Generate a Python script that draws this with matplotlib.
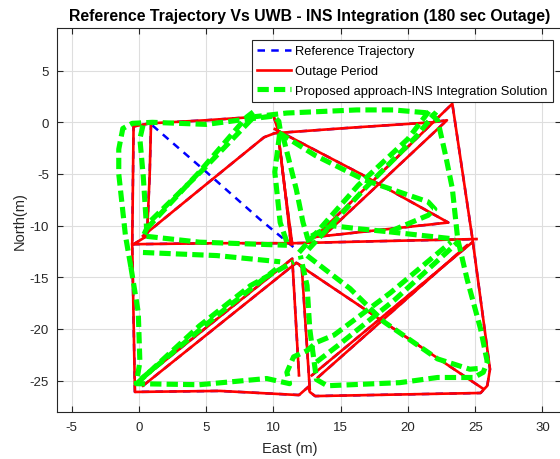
import matplotlib
matplotlib.use("Agg")
import matplotlib.pyplot as plt
import numpy as np

plt.rcParams['font.family'] = ['Liberation Sans', 'DejaVu Sans']
plt.rcParams['axes.unicode_minus'] = False

# reference leg only visible where no outage segment covers it
ref_diag = [(1.0, -0.3), (5.0, -4.8), (9.0, -9.4), (11.6, -12.2)]

# outage period segments (East, North)
red_border = [(0.8, -0.1), (-0.4, -0.4), (-0.5, -11.8), (-0.3, -26.1), (6.0, -26.0),
              (11.9, -26.4), (12.6, -25.6), (12.7, -26.1), (13.1, -26.5),
              (25.4, -26.2), (25.9, -25.5), (26.1, -23.9), (24.8, -11.3),
              (23.3, 1.8), (13.1, -11.1)]
red_top = [(0.8, -0.1), (5.0, 0.2), (10.0, 0.65), (10.3, -0.6), (10.8, -6.0), (11.4, -11.8)]
red_top_mid = [(10.4, -1.6), (10.9, -7.0), (11.3, -11.8)]
red_left_inner = [(0.9, 0.0), (0.8, -5.0), (0.6, -11.0), (-0.4, -11.8)]
red_tl_diag = [(0.3, -11.0), (5.0, -6.0), (9.3, -1.45), (10.1, -1.05), (16.0, -0.5),
               (21.8, 0.0), (22.9, 0.2), (13.8, -10.9)]
red_mid = [(-0.5, -11.8), (6.0, -11.7), (11.5, -11.7), (18.0, -11.5), (25.1, -11.3)]
red_tr_x = [(10.1, -0.65), (16.5, -5.0), (23.0, -9.7), (13.1, -11.1)]
red_bl_diag1 = [(-0.2, -25.3), (11.2, -13.4), (11.4, -13.2), (11.9, -24.5)]
red_bl_diag2 = [(0.3, -25.5), (11.7, -13.6), (12.1, -13.9), (12.7, -25.8)]
red_br_x = [(12.0, -13.9), (25.6, -25.8)]
red_br_diag1 = [(12.85, -24.5), (24.8, -11.6)]
red_br_diag2 = [(13.3, -24.7), (24.4, -11.9)]

# integrated solution segments (East, North)
grn_outer = [(-0.6, -14.0), (-1.0, -11.0), (-1.5, -5.0), (-1.5, -2.6), (-1.2, -0.6),
             (-0.5, -0.1), (1.0, 0.0), (5.0, -0.2), (8.0, 0.3), (10.0, 0.6),
             (10.4, 0.1), (10.5, -0.7), (10.1, -4.8), (10.5, -9.7), (11.0, -11.6)]
grn_left_low = [(-0.6, -14.0), (-0.05, -18.4), (0.07, -23.2), (-0.2, -25.3),
                (4.5, -25.4), (9.5, -24.8), (11.2, -25.3), (11.0, -24.2),
                (11.5, -22.7), (12.5, -22.1), (13.2, -21.3), (14.5, -20.6),
                (18.7, -16.5), (23.2, -11.6)]
grn_left_inner = [(0.3, -0.3), (0.07, -1.6), (0.32, -5.2), (0.57, -10.3), (0.32, -11.0),
                  (4.5, -11.6), (11.0, -11.9)]
grn_tl_diag1 = [(0.57, -10.3), (4.5, -4.8), (8.0, 0.5), (8.5, 1.0)]
grn_tl_diag2 = [(0.9, -9.5), (4.9, -4.4), (8.6, 0.6)]
grn_mid_low = [(0.3, -12.6), (5.8, -12.9), (10.5, -13.5)]
grn_top_mid = [(10.7, -1.3), (11.7, -6.5), (12.2, -9.7), (12.7, -11.9)]
grn_top_arc = [(8.3, 0.5), (11.0, 0.9), (16.2, 1.2), (18.9, 1.2), (21.6, 0.9),
               (22.2, 0.2), (22.3, -0.3), (22.8, -3.2), (23.3, -6.4), (23.7, -11.3),
               (24.4, -15.2), (25.4, -20.0), (25.9, -23.2), (25.6, -24.2),
               (24.9, -24.7), (22.2, -24.7), (19.4, -25.2), (14.0, -25.5),
               (13.2, -24.9), (13.1, -23.9), (12.7, -20.0), (12.5, -15.8), (12.0, -12.9)]
grn_tr_diag1 = [(11.9, -12.6), (16.3, -6.1), (20.0, -1.6), (21.7, 1.3)]
grn_tr_diag2 = [(12.6, -12.3), (16.8, -6.4), (20.6, -1.4), (22.1, 1.0)]
grn_tr_loop = [(10.4, -1.0), (13.1, -3.2), (16.8, -5.6), (21.5, -7.7), (22.0, -8.4),
               (21.5, -9.0), (18.6, -10.6), (16.3, -10.3), (14.3, -10.0), (12.4, -11.3)]
grn_tr_tail = [(18.6, -10.6), (23.5, -11.3)]
grn_bl_diag1 = [(-0.17, -25.3), (4.5, -19.7), (8.3, -15.8), (11.5, -13.5)]
grn_bl_diag2 = [(0.2, -24.8), (5.8, -18.7), (10.2, -14.2)]
grn_br_x = [(12.5, -12.9), (15.7, -16.1), (18.2, -19.3), (22.2, -22.9), (24.6, -23.9),
            (25.5, -23.8)]
grn_br_diag = [(13.2, -23.2), (14.8, -21.6), (19.0, -17.2), (23.8, -11.5)]

red_paths = [red_border, red_top, red_top_mid, red_left_inner, red_tl_diag, red_mid,
             red_tr_x, red_bl_diag1, red_bl_diag2, red_br_x, red_br_diag1, red_br_diag2]
grn_paths = [grn_outer, grn_left_low, grn_left_inner, grn_tl_diag1, grn_tl_diag2,
             grn_mid_low, grn_top_mid, grn_top_arc, grn_tr_diag1, grn_tr_diag2,
             grn_tr_loop, grn_tr_tail, grn_bl_diag1, grn_bl_diag2, grn_br_x, grn_br_diag]

x_ticks = [-5, 0, 5, 10, 15, 20, 25, 30]
y_ticks = [-25, -20, -15, -10, -5, 0, 5]

ink = '#262626'
fig = plt.figure(figsize=(5.6, 4.6), dpi=100)
ax = fig.add_axes([57.3 / 560, 46.7 / 460, 503.7 / 560, 384.3 / 460])

# reference drawn first, outage path over it, solution on top
for i, p in enumerate([ref_diag] + red_paths):
    a = np.array(p)
    ax.plot(a[:, 0], a[:, 1], color='blue', lw=1.8, ls=(0, (3, 2.5)),
            label='Reference Trajectory' if i == 0 else None)
for i, p in enumerate(red_paths):
    a = np.array(p)
    ax.plot(a[:, 0], a[:, 1], color='red', lw=1.9, solid_joinstyle='round',
            label='Outage Period' if i == 0 else None)
for i, p in enumerate(grn_paths):
    a = np.array(p)
    ax.plot(a[:, 0], a[:, 1], color='#00ff00', lw=3.7, ls=(0, (2.2, 1)),
            label='Proposed approach-INS Integration Solution' if i == 0 else None)

ax.set_xlim(-6.07, 31.38)
ax.set_ylim(-28.07, 9.13)
ax.set_xticks(x_ticks)
ax.set_yticks(y_ticks)
ax.grid(True, color='#dedede', lw=0.8)
ax.set_axisbelow(True)
ax.tick_params(direction='in', top=True, right=True, length=4, width=0.8,
               colors=ink, labelsize=9.5, pad=6)
for s in ax.spines.values():
    s.set_color(ink)
    s.set_linewidth(0.8)

ax.set_title('Reference Trajectory Vs UWB - INS Integration (180 sec Outage)',
             fontsize=11.4, fontweight='bold', color='black', pad=6)
ax.set_xlabel('East (m)', fontsize=10.5, color=ink, labelpad=5)
ax.xaxis.set_label_coords((290 - 57.3) / 503.7, -0.075)
ax.set_ylabel('North(m)', fontsize=10.5, color=ink, labelpad=2)

leg = ax.legend(loc='upper right', bbox_to_anchor=(0.984, 0.969), fontsize=9.3,
                frameon=True, fancybox=False, framealpha=1, edgecolor=ink,
                handlelength=2.6, borderaxespad=0, borderpad=0.42,
                labelspacing=0.6, handletextpad=0.35)
leg.get_frame().set_linewidth(0.8)

fig.savefig('out.png', dpi=100)
